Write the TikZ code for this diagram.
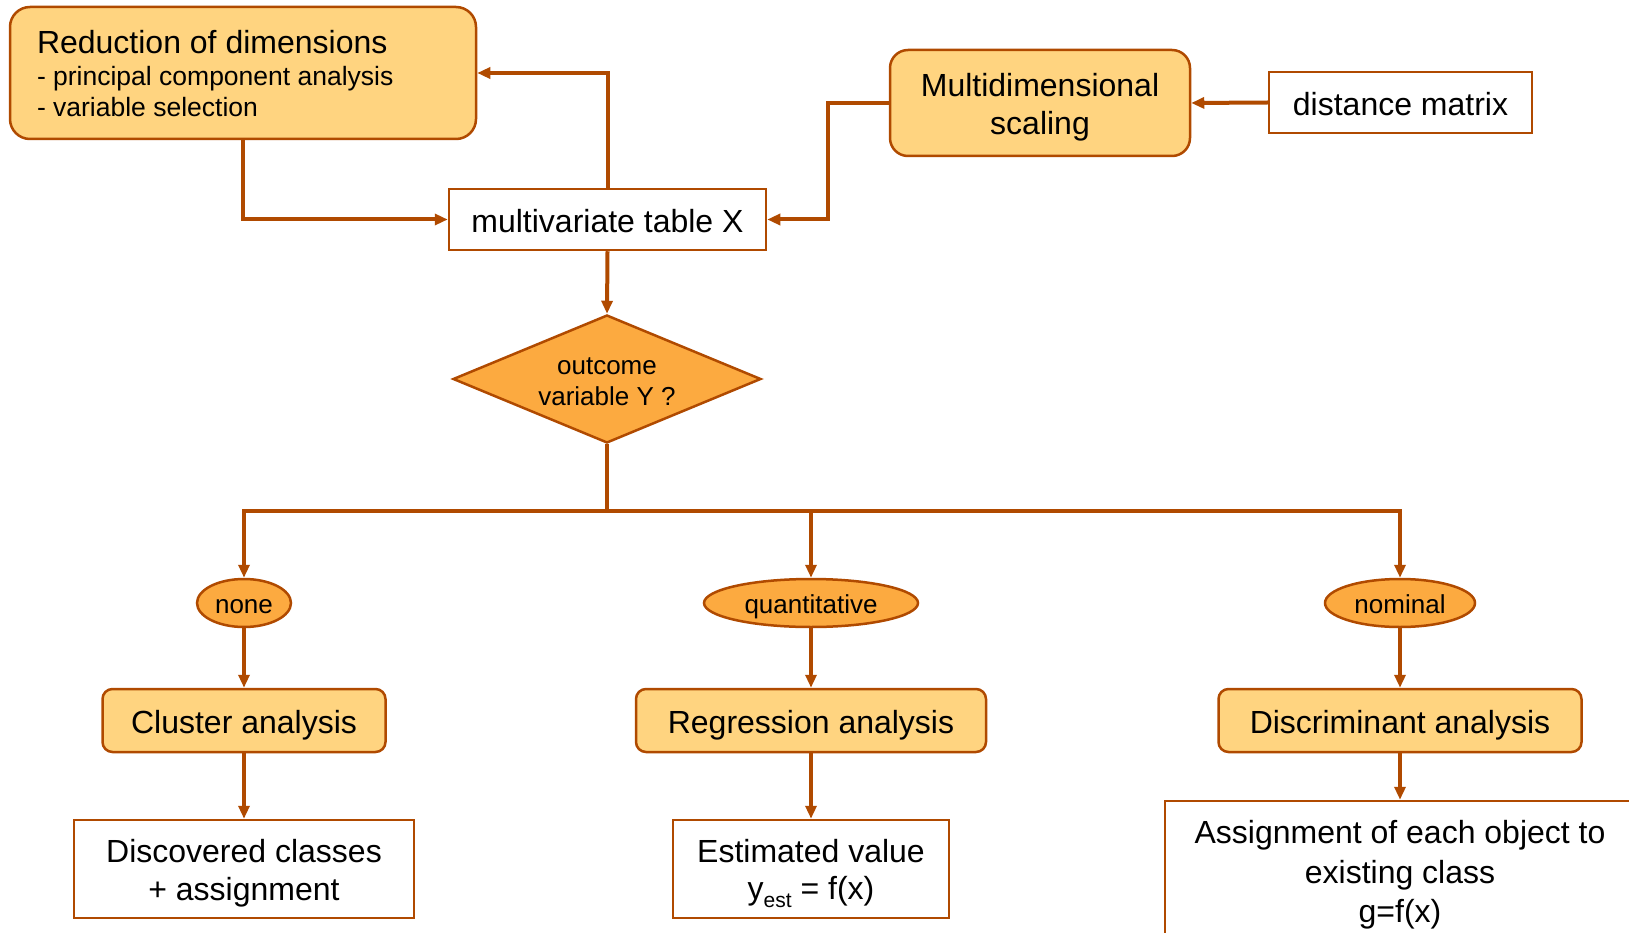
\documentclass[tikz,border=0pt]{standalone}
\usepackage{fontspec}
\setmainfont{Liberation Sans}
\usetikzlibrary{shapes.geometric,arrows.meta}
\definecolor{lineC}{RGB}{176,74,0}
\definecolor{boxC}{RGB}{255,212,128}
\definecolor{decC}{RGB}{252,170,64}
\setlength\parindent{0pt}
\newcommand\ls{\rule[-0.15\baselineskip]{0pt}{\baselineskip}}
\begin{document}
\begin{tikzpicture}[x=1pt,y=-1pt,
 conn/.style={draw=lineC, line width=4pt, -{Triangle[length=13pt,width=11pt]}},
 plainline/.style={draw=lineC, line width=4pt},
 obox/.style={draw=lineC, line width=2.5pt, fill=boxC, rounded corners=10pt, inner sep=0pt, align=center, font=\fontsize{32}{37.5}\selectfont},
 wbox/.style={draw=lineC, line width=2.5pt, fill=white, inner sep=0pt, align=center, font=\fontsize{32}{37.5}\selectfont},
 dec/.style={draw=lineC, line width=2.5pt, fill=decC, ellipse, inner sep=0pt, minimum height=48pt, font=\fontsize{26}{31}\selectfont},
]
\clip (0,0) rectangle (1629,933);

\node[obox, rounded corners=20pt, minimum width=466pt, minimum height=132pt, text width=412pt, align=left] (red) at (243,73)
 {{\fontsize{32}{37.5}\selectfont\spaceskip=0pt\xspaceskip=0pt\rule{0pt}{30pt}Reduction of dimensions\par}{\fontsize{26.5}{31.5}\selectfont\spaceskip=0pt\xspaceskip=0pt - principal component analysis\par - variable selection\rule[-5pt]{0pt}{0pt}\par}};
\node[obox, rounded corners=18pt, minimum width=300pt, minimum height=106pt] (mds) at (1040,103) {\ls Multidimensional\\\ls scaling};
\node[wbox, minimum width=263pt, minimum height=61pt] (dm) at (1400.5,102.5) {\ls distance matrix};
\node[wbox, minimum width=317pt, minimum height=61pt] (mvt) at (607.5,219.5) {\ls multivariate table X};
\node[diamond, draw=lineC, line width=2.5pt, fill=decC, minimum width=308pt, minimum height=128pt, inner sep=0pt, aspect=2.4, align=center, font=\fontsize{26}{31.5}\selectfont] (dia) at (607,379) {\ls outcome\\\ls variable Y ?};

\node[dec, minimum width=94pt] (none) at (244,603) {\ls none};
\node[dec, minimum width=214pt] (quant) at (811,603) {\ls quantitative};
\node[dec, minimum width=150pt] (nom) at (1400,603) {\ls nominal};

\node[obox, minimum width=283pt, minimum height=63pt] (clu) at (244,720.5) {\ls Cluster analysis};
\node[obox, minimum width=350pt, minimum height=63pt] (reg) at (811,720.5) {\ls Regression analysis};
\node[obox, minimum width=363pt, minimum height=63pt] (dis) at (1400,720.5) {\ls Discriminant analysis};

\node[wbox, minimum width=340pt, minimum height=98pt] (disc) at (244,869) {\ls Discovered classes\\\ls + assignment};
\node[wbox, minimum width=276pt, minimum height=98pt] (est) at (811,869) {\ls Estimated value\\\ls y{\fontsize{21}{21}\selectfont\raisebox{-8pt}{est}} = f(x)};
\node[wbox, minimum width=470pt, minimum height=139pt] (assign) at (1400,870.5) {\ls Assignment of each object to\\\ls existing class\\\ls g=f(x)};

\draw[conn] (mvt.north) |- (red.east);
\draw[conn] (red.south) |- (mvt.west);
\coordinate (mdsbend) at (828,103);
\draw[conn] (mds.west) -- (mdsbend) |- (mvt.east);
\draw[conn] (dm.west) -- (mds.east);
\draw[conn] (mvt.south) -- (dia.north);
\coordinate (bus) at (607,511);
\draw[plainline] (dia.south) -- (bus);
\draw[conn] (bus) -| (none.north);
\draw[conn] (bus) -| (quant.north);
\draw[conn] (bus) -| (nom.north);
\draw[conn] (none.south) -- (clu.north);
\draw[conn] (quant.south) -- (reg.north);
\draw[conn] (nom.south) -- (dis.north);
\draw[conn] (clu.south) -- (disc.north);
\draw[conn] (reg.south) -- (est.north);
\draw[conn] (dis.south) -- (assign.north);
\end{tikzpicture}
\end{document}
